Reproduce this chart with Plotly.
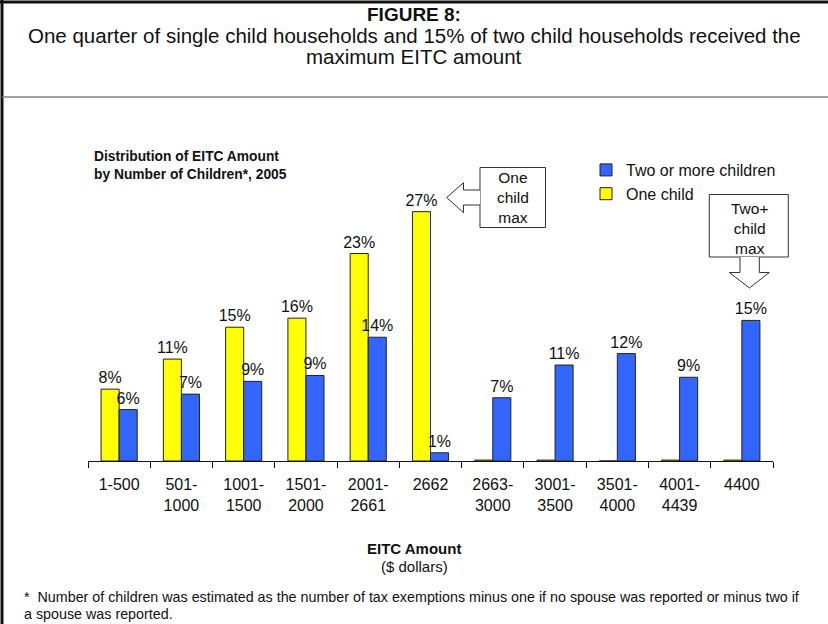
import plotly.graph_objects as go

categories = ["1-500", "501-<br>1000", "1001-<br>1500", "1501-<br>2000", "2001-<br>2661", "2662",
              "2663-<br>3000", "3001-<br>3500", "3501-<br>4000", "4001-<br>4439", "4400"]
one_child = [7.9, 11.2, 14.7, 15.7, 22.8, 27.4, 0.1, 0.1, 0.0, 0.1, 0.1]
two_plus = [5.65, 7.35, 8.75, 9.4, 13.6, 0.9, 6.95, 10.55, 11.8, 9.2, 15.45]

def lbl(vals):
    return [f"{v:.0f}%" if v >= 0.5 else "" for v in vals]

W, H = 828, 624
L, R, T, B = 88, 55, 188, 163
PW, PH = W - L - R, H - T - B

def xp(px):
    return (px - L) / PW

def yp(py):
    return (H - B - py) / PH

FONT = "Liberation Sans, Arial, sans-serif"

fig = go.Figure()
fig.add_trace(go.Bar(
    x=categories, y=one_child, name="One child",
    marker=dict(color="#FFFF00", line=dict(color="#222222", width=1)),
    text=lbl(one_child), textposition="outside", constraintext="none", cliponaxis=False,
    textfont=dict(size=16, color="#111111", family=FONT),
))
fig.add_trace(go.Bar(
    x=categories, y=two_plus, name="Two or more children",
    marker=dict(color="#3366FF", line=dict(color="#222222", width=1)),
    text=lbl(two_plus), textposition="outside", constraintext="none", cliponaxis=False,
    textfont=dict(size=16, color="#111111", family=FONT),
))

fig.update_layout(
    width=W, height=H,
    margin=dict(l=L, r=R, t=T, b=B, pad=0),
    paper_bgcolor="white", plot_bgcolor="white",
    barmode="group", bargap=0.42, bargroupgap=0,
    font=dict(family=FONT, size=16, color="#111111"),
    showlegend=True,
    legend=dict(x=xp(586), y=yp(153), xanchor="left", yanchor="top",
                traceorder="reversed", bgcolor="rgba(0,0,0,0)", tracegroupgap=0,
                font=dict(size=16, family=FONT, color="#111111"), itemwidth=30),
    xaxis=dict(showline=True, linecolor="#111111", linewidth=1, ticks="outside",
               tickson="boundaries", ticklen=6, tickcolor="#111111", showgrid=False,
               ticklabelstandoff=9,
               tickfont=dict(size=16, family=FONT, color="#111111"), fixedrange=True),
    yaxis=dict(range=[0, 30], visible=False, showgrid=False, fixedrange=True),
)

ann = []
def text(px, py, s, size=16, bold=False, xanchor="center"):
    if bold:
        s = f"<b>{s}</b>"
    ann.append(dict(x=xp(px), y=yp(py), xref="paper", yref="paper", text=s, showarrow=False,
                    xanchor=xanchor, yanchor="middle", align="center" if xanchor == "center" else "left",
                    font=dict(size=size, family=FONT, color="#111111")))

text(414, 14, "FIGURE 8:", size=19, bold=True)
text(414, 35, "One quarter of single child households and 15% of two child households received the", size=20.5)
text(414, 57, "maximum EITC amount", size=20.5)
text(92, 156, "Distribution of EITC Amount", size=13.8, bold=True, xanchor="left")
text(92, 174, "by Number of Children*, 2005", size=13.8, bold=True, xanchor="left")
text(512.5, 197, "One<br>child<br>max", size=15.5)
text(749, 228, "Two+<br>child<br>max", size=15.5)
text(414, 548, "EITC Amount", size=15, bold=True)
text(414, 566, "($ dollars)", size=15)
text(22, 597, "*  Number of children was estimated as the number of tax exemptions minus one if no spouse was reported or minus two if",
     size=14.3, xanchor="left")
text(22, 614, "a spouse was reported.", size=14.3, xanchor="left")
fig.update_layout(annotations=ann)

shapes = []
def line(x0, y0, x1, y1, color="#111111", width=1):
    shapes.append(dict(type="line", xref="paper", yref="paper", x0=xp(x0), y0=yp(y0), x1=xp(x1), y1=yp(y1),
                       line=dict(color=color, width=width)))

def path(points, closed=False):
    d = "M " + " L ".join(f"{xp(a):.5f},{yp(b):.5f}" for a, b in points)
    if closed:
        d += " Z"
    shapes.append(dict(type="path", xref="paper", yref="paper", path=d,
                       line=dict(color="#333333", width=1), fillcolor="white"))

# frame
line(0, 2, 828, 2, width=3)
line(2, 0, 2, 624, width=3)
line(2, 97, 828, 97, color="#808080", width=1.5)

# callout: one child max
path([(480, 167.5), (545.5, 167.5), (545.5, 227.5), (480, 227.5)], closed=True)
path([(480, 190), (463.5, 190), (463.5, 182.7), (446.7, 197.5), (463.5, 212.7), (463.5, 205), (480, 205)])
# callout: two+ child max
path([(709.3, 194.5), (788.3, 194.5), (788.3, 257), (709.3, 257)], closed=True)
path([(740, 257), (740, 272.5), (729.3, 272.5), (749.5, 288), (769.3, 272.5), (759.3, 272.5), (759.3, 257)])

fig.update_layout(shapes=shapes)
fig.write_html("out.html", config={"displayModeBar": False},
               post_script="document.body.style.margin='0';document.body.style.padding='0';")
